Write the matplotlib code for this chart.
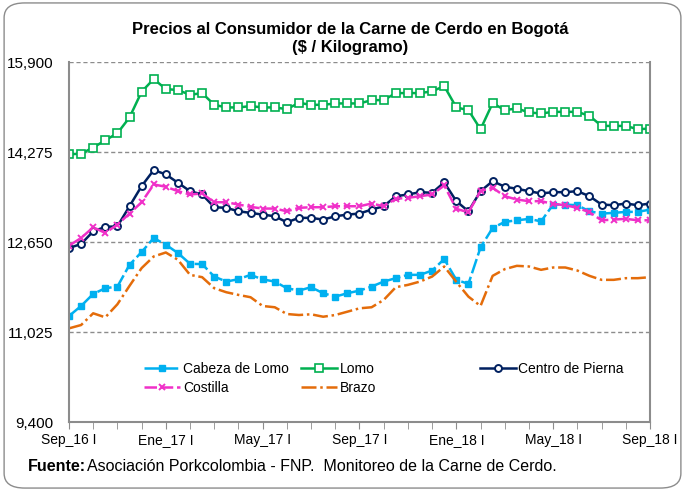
"""Precios al consumidor de la carne de cerdo en Bogota, quincenal Sep_16 - Sep_18."""

import matplotlib.pyplot as plt
from matplotlib.patches import FancyBboxPatch
from matplotlib.ticker import FuncFormatter
import numpy as np

# Data (quincenas, Sep_16 I ... Sep_18 I)
cabeza_lomo = [11314, 11495, 11713, 11816, 11845, 12238, 12469, 12722, 12601, 12451,
               12257, 12251, 12026, 11936, 11979, 12057, 11975, 11936, 11816, 11773,
               11834, 11725, 11664, 11725, 11773, 11845, 11936, 11997, 12057, 12057,
               12135, 12342, 11967, 11894, 12552, 12904, 13013, 13042, 13067, 13023,
               13326, 13326, 13314, 13205, 13163, 13176, 13194, 13194, 13236]
lomo = [14233, 14246, 14355, 14487, 14614, 14899, 15363, 15593, 15412, 15394,
        15308, 15339, 15127, 15080, 15080, 15104, 15080, 15080, 15049, 15163,
        15127, 15127, 15152, 15152, 15152, 15212, 15212, 15339, 15339, 15339,
        15370, 15466, 15080, 15031, 14686, 15158, 15031, 15062, 14989, 14971,
        15000, 15000, 15000, 14928, 14746, 14746, 14746, 14686, 14699]
centro_pierna = [12542, 12614, 12843, 12923, 12933, 13296, 13659, 13949, 13871, 13720,
                 13568, 13508, 13278, 13267, 13205, 13176, 13145, 13115, 13006, 13086,
                 13086, 13055, 13115, 13145, 13164, 13236, 13296, 13477, 13508, 13550,
                 13539, 13726, 13387, 13205, 13568, 13749, 13648, 13611, 13568, 13526,
                 13550, 13550, 13568, 13477, 13327, 13314, 13345, 13314, 13345]
costilla = [12583, 12723, 12915, 12814, 12964, 13164, 13368, 13689, 13648, 13568,
            13508, 13526, 13368, 13368, 13327, 13285, 13254, 13254, 13205, 13267,
            13278, 13278, 13296, 13296, 13296, 13345, 13296, 13430, 13448, 13477,
            13508, 13671, 13249, 13187, 13568, 13630, 13477, 13417, 13387, 13387,
            13339, 13314, 13267, 13187, 13042, 13055, 13068, 13042, 13042]
brazo = [11091, 11151, 11363, 11290, 11526, 11858, 12179, 12389, 12461, 12329,
         12057, 12015, 11816, 11743, 11695, 11653, 11495, 11472, 11350, 11332,
         11345, 11301, 11332, 11392, 11453, 11472, 11604, 11834, 11876, 11936,
         12026, 12208, 11930, 11664, 11495, 12039, 12160, 12220, 12208, 12148,
         12190, 12190, 12135, 12039, 11967, 11967, 11997, 11997, 12015]

tick_labels = ['Sep_16 I', 'Ene_17 I', 'May_17 I', 'Sep_17 I', 'Ene_18 I', 'May_18 I', 'Sep_18 I']
y_ticks = [9400, 11025, 12650, 14275, 15900]

plt.rcParams['font.family'] = ['Liberation Sans', 'DejaVu Sans']

fig = plt.figure(figsize=(6.85, 4.91), dpi=100)
fig.patches.append(FancyBboxPatch((0.006, 0.006), 0.988, 0.988, boxstyle='round,pad=0,rounding_size=0.03',
                                  transform=fig.transFigure, facecolor='white', edgecolor='#8c8c8c',
                                  linewidth=1.0, zorder=-10))
ax = fig.add_axes([0.1007, 0.1405, 0.8482, 0.7332])
ax.set_facecolor('none')

x = np.arange(len(lomo))

l1, = ax.plot(x, cabeza_lomo, color='#00B0F0', lw=1.8, marker='s', ms=3.8, ls=(0, (6, 1.5)),
              label='Cabeza de Lomo')
l2, = ax.plot(x, lomo, color='#00B050', lw=1.8, marker='s', ms=5.5, mfc='white', mec='#00B050',
              mew=1.2, label='Lomo')
l3, = ax.plot(x, centro_pierna, color='#002060', lw=1.8, marker='o', ms=5, mfc='white', mec='#002060',
              mew=1.4, label='Centro de Pierna')
l4, = ax.plot(x, costilla, color='#F030C8', lw=1.8, marker='x', ms=5, mew=1.4, ls=(0, (5, 1.5)),
              label='Costilla')
l5, = ax.plot(x, brazo, color='#E46C0A', lw=1.8, ls=(0, (6, 1.5, 1, 1.5)), label='Brazo')

ax.set_xlim(0, len(lomo) - 1)
ax.set_ylim(9400, 15900)
ax.set_yticks(y_ticks)
ax.yaxis.set_major_formatter(FuncFormatter(lambda v, p: f'{v:,.0f}'))
ax.set_xticks(np.arange(0, len(lomo), 8))
ax.set_xticklabels(tick_labels)
ax.set_xticks(np.arange(0, len(lomo), 2), minor=True)

ax.yaxis.grid(True, linestyle=(0, (3, 2)), color='#8c8c8c', linewidth=1.0)
ax.set_axisbelow(True)
ax.tick_params(axis='y', length=0, pad=11, labelsize=11)
ax.tick_params(axis='x', which='both', direction='out', length=5, color='#8c8c8c', labelsize=10, pad=3)

for side in ['left', 'bottom', 'right']:
    ax.spines[side].set_color('#8c8c8c')
    ax.spines[side].set_linewidth(1.5)
ax.spines['top'].set_visible(False)

leg1 = ax.legend(handles=[l1, l4, l2, l5], ncol=2, loc='upper left', bbox_to_anchor=(0.12, 0.183),
                 frameon=False, fontsize=10, handlelength=2.6, handletextpad=0.2, columnspacing=0.83,
                 labelspacing=0.35, borderaxespad=0)
ax.add_artist(leg1)
ax.legend(handles=[l3], loc='upper left', bbox_to_anchor=(0.697, 0.183), frameon=False, fontsize=10,
          handlelength=2.6, handletextpad=0.2, borderaxespad=0)

fig.text(0.511, 0.921, 'Precios al Consumidor de la Carne de Cerdo en Bogotá\n($ / Kilogramo)',
         ha='center', va='center', fontsize=12, fontweight='bold', linespacing=1.25)
fig.text(0.04, 0.05, 'Fuente:', fontsize=11.5, fontweight='bold', va='center')
fig.text(0.127, 0.05, 'Asociación Porkcolombia - FNP.  Monitoreo de la Carne de Cerdo.', fontsize=11.5,
         va='center')

fig.savefig('out.png', dpi=100, facecolor='white')
